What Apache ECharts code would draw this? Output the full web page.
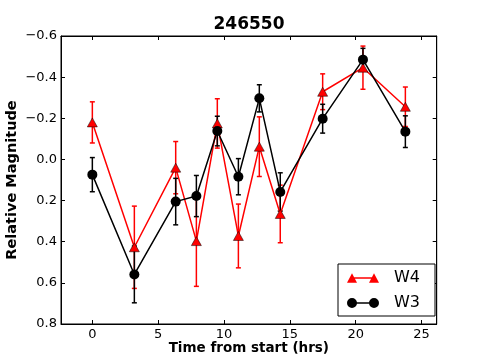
<!DOCTYPE html>
<html>
<head>
<meta charset="utf-8">
<script src="https://cdn.jsdelivr.net/npm/echarts@6/dist/echarts.min.js"></script>
<style>html,body{margin:0;padding:0;background:#fff}#c{width:485px;height:360px}</style>
</head>
<body>
<div id="c"></div>
<script>
const titleText = '246550';
const xValues = [0, 3.19, 6.33, 7.9, 9.49, 11.09, 12.68, 14.27, 17.49, 20.55, 23.77];
const w4Values = [-0.18, 0.427, 0.04, 0.397, -0.175, 0.372, -0.062, 0.265, -0.329, -0.446, -0.256];
const w4Errors = [0.1, 0.2, 0.127, 0.22, 0.12, 0.155, 0.145, 0.14, 0.087, 0.105, 0.096];
const w3Values = [0.074, 0.559, 0.205, 0.178, -0.138, 0.084, -0.297, 0.158, -0.198, -0.485, -0.135];
const w3Errors = [0.083, 0.138, 0.113, 0.1, 0.072, 0.088, 0.066, 0.093, 0.07, 0.055, 0.077];
const xTicks = [0, 5, 10, 15, 20, 25];
const yTicks = [-0.6, -0.4, -0.2, 0.0, 0.2, 0.4, 0.6, 0.8];
const xRange = [-2.38, 26.15];
const yRange = [-0.6, 0.8];

const FONT = 'DejaVu Sans';
const fmtY = v => v.toFixed(1).replace('-', '\u2212');

function errSeries(name, vals, errs, color) {
  return {
    name: name, type: 'custom', xAxisIndex: 0, yAxisIndex: 0, z: 2,
    encode: {x: 0, y: [1, 2]},
    data: xValues.map((x, i) => [x, vals[i] - errs[i], vals[i] + errs[i]]),
    renderItem: function (params, api) {
      const x = api.value(0);
      const p1 = api.coord([x, api.value(1)]);
      const p2 = api.coord([x, api.value(2)]);
      const c = 2.5;
      const st = {stroke: color, lineWidth: 1.5};
      return {type: 'group', children: [
        {type: 'line', shape: {x1: p1[0], y1: p1[1], x2: p2[0], y2: p2[1]}, style: st},
        {type: 'line', shape: {x1: p1[0] - c, y1: p1[1], x2: p1[0] + c, y2: p1[1]}, style: st},
        {type: 'line', shape: {x1: p2[0] - c, y1: p2[1], x2: p2[0] + c, y2: p2[1]}, style: st}
      ]};
    }
  };
}

const w4Icon = 'path://M0,10L5,0.5L10,10Z M22,10L27,0.5L32,10Z M5,4.5L27,4.5L27,6L5,6Z';
const w3Icon = 'path://M0,5A5,5,0,1,1,10,5A5,5,0,1,1,0,5Z M22,5A5,5,0,1,1,32,5A5,5,0,1,1,22,5Z M5,4.25L27,4.25L27,5.75L5,5.75Z';

const chart = echarts.init(document.getElementById('c'), null, {renderer: 'canvas'});
const axisCommon = {
  type: 'value',
  axisLine: {show: true, onZero: false, lineStyle: {color: '#000', width: 1}},
  splitLine: {show: false},
  axisTick: {show: true, inside: true, length: 4, lineStyle: {color: '#000', width: 1}}
};
chart.setOption({
  animation: false,
  backgroundColor: '#fff',
  title: {
    text: titleText, left: 249, top: 15, textAlign: 'center', padding: 0,
    textStyle: {fontFamily: FONT, fontSize: 17, fontWeight: 'bold', color: '#000', lineHeight: 20}
  },
  grid: {left: 61, right: 48.3, top: 36, bottom: 36, containLabel: false, outerBoundsMode: 'none',
    show: true, borderColor: '#000', borderWidth: 1, backgroundColor: 'transparent'},
  legend: {
    orient: 'vertical', left: 338, top: 264,
    padding: [5, 15, 4, 9], itemGap: 7, itemWidth: 32, itemHeight: 10,
    borderColor: '#000', borderWidth: 1, backgroundColor: '#fff',
    textStyle: {fontFamily: FONT, fontSize: 16, color: '#000', lineHeight: 18, padding: [0, 0, 0, 10]},
    data: [
      {name: 'W4', icon: w4Icon, itemStyle: {color: '#ff0000', borderWidth: 0}},
      {name: 'W3', icon: w3Icon, itemStyle: {color: '#000', borderWidth: 0}}
    ]
  },
  xAxis: [
    Object.assign({}, axisCommon, {
      position: 'bottom', min: xRange[0], max: xRange[1],
      name: 'Time from start (hrs)', nameLocation: 'middle', nameGap: 17, nameMoveOverlap: false,
      nameTextStyle: {fontFamily: FONT, fontSize: 13.5, fontWeight: 'bold', color: '#000', lineHeight: 14},
      axisTick: Object.assign({}, axisCommon.axisTick, {customValues: xTicks}),
      axisLabel: {customValues: xTicks, margin: 4, fontFamily: FONT, fontSize: 13, color: '#000'}
    }),
    Object.assign({}, axisCommon, {
      position: 'top', min: xRange[0], max: xRange[1],
      axisTick: Object.assign({}, axisCommon.axisTick, {customValues: xTicks}),
      axisLabel: {show: false, customValues: xTicks}
    })
  ],
  yAxis: [
    Object.assign({}, axisCommon, {
      position: 'left', inverse: true, min: yRange[0], max: yRange[1],
      name: 'Relative Magnitude', nameLocation: 'middle', nameGap: 41.5, nameRotate: 90, nameMoveOverlap: false,
      nameTextStyle: {fontFamily: FONT, fontSize: 14.5, fontWeight: 'bold', color: '#000', lineHeight: 15},
      axisTick: Object.assign({}, axisCommon.axisTick, {customValues: yTicks}),
      axisLabel: {customValues: yTicks, margin: 4, fontFamily: FONT, fontSize: 13, color: '#000', formatter: fmtY}
    }),
    Object.assign({}, axisCommon, {
      position: 'right', inverse: true, min: yRange[0], max: yRange[1],
      axisTick: Object.assign({}, axisCommon.axisTick, {customValues: yTicks}),
      axisLabel: {show: false, customValues: yTicks}
    })
  ],
  series: [
    errSeries('W4 err', w4Values, w4Errors, '#ff0000'),
    {
      name: 'W4', type: 'line', xAxisIndex: 0, yAxisIndex: 0, z: 3,
      data: xValues.map((x, i) => [x, w4Values[i]]),
      symbol: 'triangle', symbolSize: [10, 9], showAllSymbol: true,
      lineStyle: {color: '#ff0000', width: 1.5},
      itemStyle: {color: '#ff0000', borderColor: '#000', borderWidth: 0.5}
    },
    errSeries('W3 err', w3Values, w3Errors, '#000'),
    {
      name: 'W3', type: 'line', xAxisIndex: 0, yAxisIndex: 0, z: 4,
      data: xValues.map((x, i) => [x, w3Values[i]]),
      symbol: 'circle', symbolSize: 10, showAllSymbol: true,
      lineStyle: {color: '#000', width: 1.5},
      itemStyle: {color: '#000', borderWidth: 0}
    }
  ]
});
</script>
</body>
</html>
